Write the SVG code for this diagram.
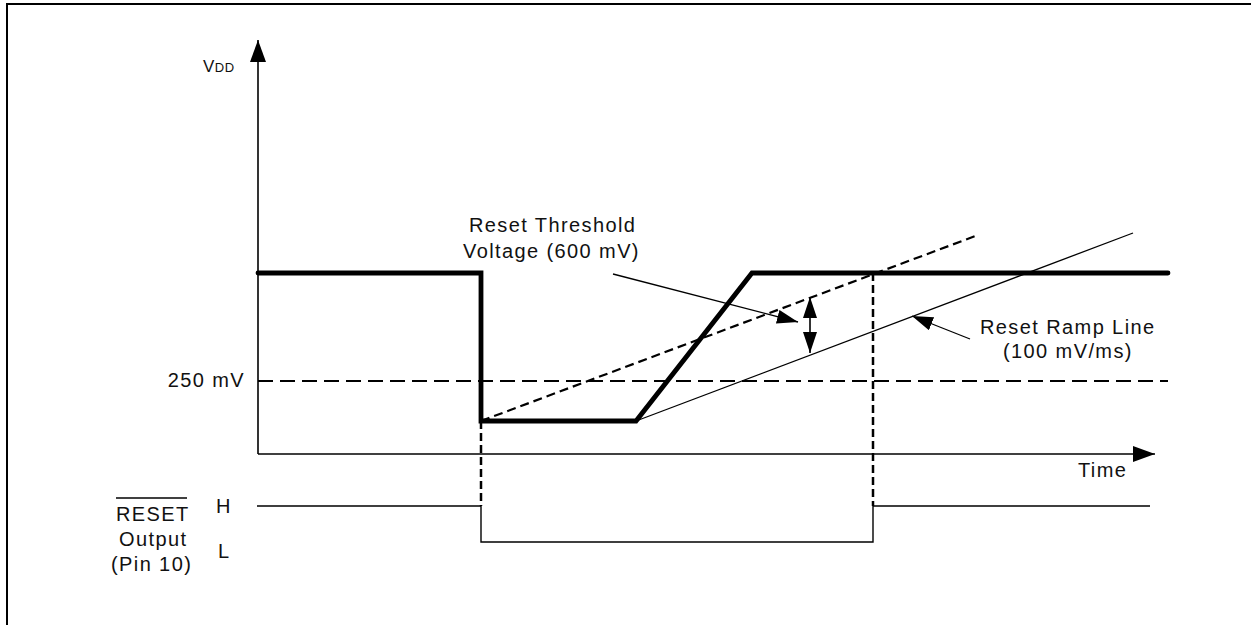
<svg xmlns="http://www.w3.org/2000/svg" width="1251" height="625" viewBox="0 0 1251 625">
<style>
text{font-family:"Liberation Sans",Arial,sans-serif;fill:#111;font-size:20px;letter-spacing:1.4px}
.thin{fill:none;stroke:#000;stroke-width:1.6}
.thick{fill:none;stroke:#000;stroke-width:4.8;stroke-linejoin:miter;stroke-linecap:round}
.dash{fill:none;stroke:#000;stroke-width:2;stroke-dasharray:15 7}
.sdash{fill:none;stroke:#000;stroke-width:2.2;stroke-dasharray:9 5}
.vdash{fill:none;stroke:#000;stroke-width:2.5;stroke-dasharray:8 4}
</style>
<defs>
<marker id="big" markerUnits="userSpaceOnUse" markerWidth="22" markerHeight="16" refX="22" refY="8" orient="auto"><path d="M0,0 L22,8 L0,16 z" fill="#000"/></marker>
<marker id="small" markerUnits="userSpaceOnUse" markerWidth="21" markerHeight="14" refX="21" refY="7" orient="auto-start-reverse"><path d="M0,0 L21,7 L0,14 z" fill="#000"/></marker>
</defs>
<rect width="1251" height="625" fill="#fff"/>
<path id="frame" d="M7,625 V4 H1251" fill="none" stroke="#000" stroke-width="2"/>

<g id="axes">
<line class="thin" x1="258" y1="454" x2="258" y2="40" marker-end="url(#big)"/>
<line class="thin" x1="258" y1="454" x2="1155" y2="454" marker-end="url(#big)"/>
<text x="203" y="72" style="font-size:17px;letter-spacing:0.5px">V<tspan style="font-size:13px">DD</tspan></text>
<text x="1078" y="477">Time</text>
</g>

<g id="levels">
<line class="dash" x1="258" y1="381" x2="1168" y2="381"/>
<text x="245" y="387" text-anchor="end">250 mV</text>
</g>

<g id="ramps">
<line class="sdash" x1="481" y1="421" x2="978" y2="235"/>
<line class="thin" x1="636" y1="421" x2="1133" y2="233" style="stroke-width:1.3"/>
</g>

<g id="vdd-waveform">
<path class="thick" d="M258,273 H481 V421 H636 L752,273 H1168"/>
</g>

<g id="markers">
<line class="vdash" x1="481" y1="421" x2="481" y2="506"/>
<line class="vdash" x1="873" y1="273" x2="873" y2="506"/>
</g>

<g id="reset-output">
<path class="thin" d="M257,506 H481 V542 H873 V506 H1150" style="stroke-width:1.4"/>
<text x="116" y="521">RESET</text>
<line x1="116" y1="498" x2="187" y2="498" stroke="#000" stroke-width="1.4"/>
<text x="119" y="546">Output</text>
<text x="111" y="571">(Pin 10)</text>
<text x="216" y="513">H</text>
<text x="218" y="558">L</text>
</g>

<g id="threshold-label">
<text x="469" y="232">Reset Threshold</text>
<text x="463" y="258">Voltage (600 mV)</text>
</g>

<g id="ramp-label">
<text x="980" y="334">Reset Ramp Line</text>
<text x="1003" y="358">(100 mV/ms)</text>
</g>

<g id="connectors">
<line class="thin" x1="613" y1="274" x2="798" y2="322" style="stroke-width:1.3" marker-end="url(#small)"/>
<line class="thin" x1="970" y1="339" x2="912" y2="316" style="stroke-width:1.3" marker-end="url(#small)"/>
<line class="thin" x1="810" y1="297" x2="810" y2="353" marker-start="url(#small)" marker-end="url(#small)"/>
</g>
</svg>
